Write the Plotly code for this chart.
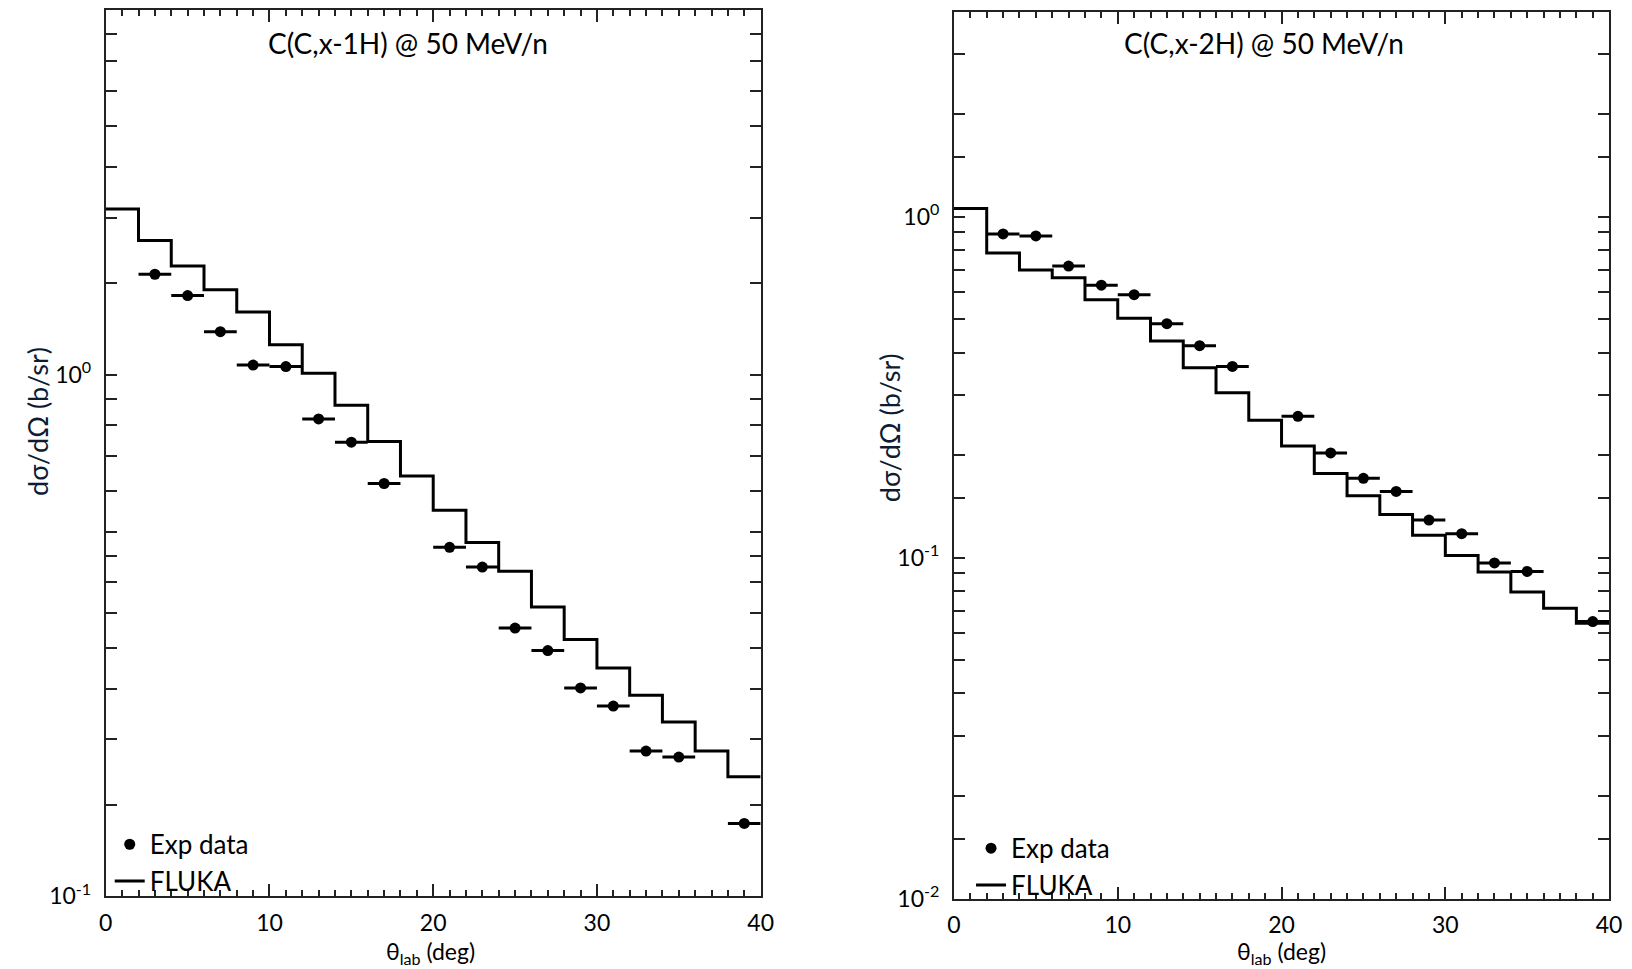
import plotly.graph_objects as go

# ---------------- data ----------------
bin_edges = [0, 2, 4, 6, 8, 10, 12, 14, 16, 18, 20, 22, 24, 26, 28, 30, 32, 34, 36, 38, 40]

fluka_1h = [2.08, 1.81, 1.616, 1.456, 1.32, 1.142, 1.007, 0.874, 0.745, 0.640,
            0.550, 0.477, 0.420, 0.359, 0.311, 0.274, 0.243, 0.216, 0.190, 0.1696]
exp_1h_theta = [3, 5, 7, 9, 11, 13, 15, 17, 21, 23, 25, 27, 29, 31, 33, 35, 39]
exp_1h_val = [1.559, 1.419, 1.210, 1.044, 1.037, 0.823, 0.743, 0.619, 0.467, 0.428,
              0.327, 0.296, 0.251, 0.2317, 0.190, 0.185, 0.138]

fluka_2h = [1.057, 0.783, 0.698, 0.663, 0.571, 0.504, 0.432, 0.361, 0.305, 0.253,
            0.2127, 0.1768, 0.152, 0.1339, 0.1164, 0.1015, 0.0908, 0.0794, 0.0711, 0.0643]
exp_2h_theta = [3, 5, 7, 9, 11, 13, 15, 17, 21, 23, 25, 27, 29, 31, 33, 35, 39]
exp_2h_val = [0.891, 0.879, 0.717, 0.630, 0.591, 0.486, 0.419, 0.364, 0.260, 0.203,
              0.171, 0.1565, 0.129, 0.1177, 0.0966, 0.0912, 0.065]
exp_theta_err = [1] * len(exp_1h_theta)

titles = ["C(C,x-1H) @ 50 MeV/n", "C(C,x-2H) @ 50 MeV/n"]
y_title = "dσ/dΩ (b/sr)"
x_title = "θ<sub>lab</sub> (deg)"

y1_major = [0.1, 1]
y1_major_text = ["10<sup>-1</sup>", "10<sup>0</sup>"]
y1_minor = [0.15, 0.2, 0.25, 0.3, 0.35, 0.4, 0.45, 0.5, 0.6, 0.7, 0.8, 0.9,
            1.5, 2, 2.5, 3, 3.5, 4, 4.5, 5]
y2_major = [0.01, 0.1, 1]
y2_major_text = ["10<sup>-2</sup>", "10<sup>-1</sup>", "10<sup>0</sup>"]
y2_minor = [0.015, 0.02, 0.03, 0.04, 0.05, 0.06, 0.07, 0.08, 0.09,
            0.15, 0.2, 0.3, 0.4, 0.5, 0.6, 0.7, 0.8, 0.9, 1.5, 2, 3, 4]
x_major = [0, 10, 20, 30, 40]
x_major_text = ["0", "10", "20", "30", "40"]

FONT = "Lato"
W, H = 1632, 969

fig = go.Figure()

panels = [
    (fluka_1h, exp_1h_theta, exp_1h_val, "x", "y", "legend"),
    (fluka_2h, exp_2h_theta, exp_2h_val, "x2", "y2", "legend2"),
]
for fl, th, ev, xa, ya, lg in panels:
    fig.add_trace(go.Scatter(
        x=th, y=ev, mode="markers", name="Exp data",
        marker=dict(symbol="circle", size=11, color="black"),
        error_x=dict(type="data", array=exp_theta_err, color="black",
                     thickness=3, width=0),
        xaxis=xa, yaxis=ya, legend=lg,
    ))
    fig.add_trace(go.Scatter(
        x=bin_edges, y=fl + [fl[-1]], mode="lines", name="FLUKA",
        line=dict(shape="hv", color="black", width=3),
        xaxis=xa, yaxis=ya, legend=lg,
    ))

axis_common = dict(
    showline=True, linecolor="#222", linewidth=2, mirror="allticks",
    ticks="inside", tickcolor="#222", showgrid=False, zeroline=False,
    tickfont=dict(family=FONT, size=23, color="black"),
)

xdom1 = [100 / W, 763 / W]
xdom2 = [958.7 / W, 1622 / W]
ydom1 = [(H - 908.6) / H, (H - 10.4) / H]
ydom2 = [(H - 911) / H, (H - 11.7) / H]

xaxis_base = dict(
    range=[0, 40], tickmode="array", tickvals=x_major, ticktext=x_major_text,
    ticklen=12, tickwidth=2, ticklabelstandoff=5,
    minor=dict(dtick=1, ticklen=6, tickwidth=1.5, tickcolor="#222", ticks="inside"),
    **axis_common,
)


def yaxis_cfg(dom, anchor, rng, major, major_text, minor):
    return dict(domain=dom, anchor=anchor, type="log", range=rng,
                tickmode="array", tickvals=major, ticktext=major_text,
                ticklen=11, tickwidth=1.5, ticklabelstandoff=8,
                minor=dict(tickmode="array", tickvals=minor, ticklen=11,
                           tickwidth=1.5, tickcolor="#222", ticks="inside"),
                **axis_common)


fig.update_layout(
    width=W, height=H,
    margin=dict(l=0, r=0, t=0, b=0),
    paper_bgcolor="white", plot_bgcolor="white",
    font=dict(family=FONT, color="black"),
    xaxis=dict(domain=xdom1, anchor="y", **xaxis_base),
    xaxis2=dict(domain=xdom2, anchor="y2", **xaxis_base),
    yaxis=yaxis_cfg(ydom1, "x", [-1, 0.699], y1_major, y1_major_text, y1_minor),
    yaxis2=yaxis_cfg(ydom2, "x2", [-2, 0.602], y2_major, y2_major_text, y2_minor),
    legend=dict(x=104 / W, y=(H - 832) / H, xanchor="left", yanchor="top",
                bgcolor="rgba(0,0,0,0)", font=dict(family=FONT, size=26, color="black"),
                itemwidth=30, tracegroupgap=0),
    legend2=dict(x=976 / W, y=(H - 836) / H, xanchor="left", yanchor="top",
                 bgcolor="rgba(0,0,0,0)", font=dict(family=FONT, size=26, color="black"),
                 itemwidth=30, tracegroupgap=0),
    showlegend=True,
)

# panel titles
for tx, cx in zip(titles, [406, 1273]):
    fig.add_annotation(x=cx / W, y=(H - 44) / H, xref="paper", yref="paper",
                       xanchor="center", yanchor="middle",
                       text=tx, showarrow=False,
                       font=dict(family=FONT, size=28, color="black"))

# y-axis titles
for cx, cy in [(31, 427), (893, 434)]:
    fig.add_annotation(x=cx / W, y=(H - cy) / H, xref="paper", yref="paper",
                       xanchor="center", yanchor="middle", textangle=-90,
                       text=y_title, showarrow=False,
                       font=dict(family=FONT, size=27, color="#0d1b33"))

# x-axis titles
for cx in [429, 1290]:
    fig.add_annotation(x=cx / W, y=0, xref="paper", yref="paper",
                       xanchor="center", yanchor="bottom", borderpad=0,
                       yshift=-13,
                       text=x_title, showarrow=False,
                       font=dict(family=FONT, size=23, color="black"))

fig.write_html("out.html")
